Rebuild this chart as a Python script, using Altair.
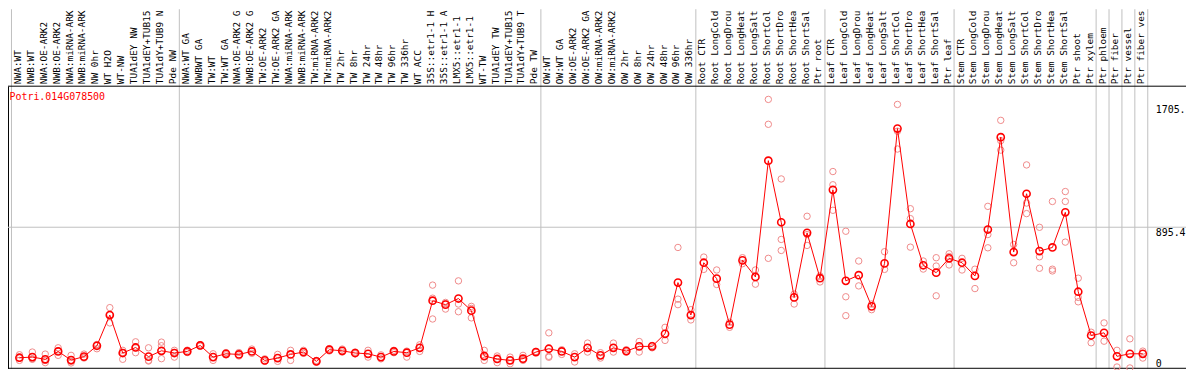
import altair as alt
import pandas as pd

gene = "Potri.014G078500"

labels = [
    "NWA:WT", "NWB:WT", "NWA:OE-ARK2", "NWB:OE-ARK2", "NWA:miRNA-ARK2", "NWB:miRNA-ARK2",
    "NW 0hr", "WT H2O", "WT-NW", "TUA1dEY NW", "TUA1dEY+TUB15 NW", "TUA1dY+TUB9 NW", "Pde NW",
    "NWA:WT GA", "NWBWT GA", "TW:WT", "TW:WT GA", "NWA:OE-ARK2 GA", "NWB:OE-ARK2 GA",
    "TW:OE-ARK2", "TW:OE-ARK2 GA", "NWA:miRNA-ARK2 GA", "NWB:miRNA-ARK2 GA", "TW:miRNA-ARK2",
    "TW:miRNA-ARK2 GA", "TW 2hr", "TW 8hr", "TW 24hr", "TW 48hr", "TW 96hr", "TW 336hr",
    "WT ACC", "35S::etr1-1 H2O", "35S::etr1-1 ACC", "LMX5::etr1-1 H2O", "LMX5::etr1-1 ACC",
    "WT-TW", "TUA1dEY TW", "TUA1dEY+TUB15 TW", "TUA1dY+TUB9 TW", "Pde TW",
    "OW:WT", "OW:WT GA", "OW:OE-ARK2", "OW:OE-ARK2 GA", "OW:miRNA-ARK2", "OW:miRNA-ARK2 GA",
    "OW 2hr", "OW 8hr", "OW 24hr", "OW 48hr", "OW 96hr", "OW 336hr",
    "Root CTR", "Root LongCold", "Root LongDrought", "Root LongHeat", "Root LongSalt",
    "Root ShortCold", "Root ShortDrought", "Root ShortHeat", "Root ShortSalt", "Ptr root",
    "Leaf CTR", "Leaf LongCold", "Leaf LongDrought", "Leaf LongHeat", "Leaf LongSalt",
    "Leaf ShortCold", "Leaf ShortDrought", "Leaf ShortHeat", "Leaf ShortSalt", "Ptr leaf",
    "Stem CTR", "Stem LongCold", "Stem LongDrought", "Stem LongHeat", "Stem LongSalt",
    "Stem ShortCold", "Stem ShortDrought", "Stem ShortHeat", "Stem ShortSalt", "Ptr shoot",
    "Ptr xylem", "Ptr phloem", "Ptr fiber", "Ptr vessel", "Ptr fiber vessel",
]

means = [
    67, 71, 57, 107, 52, 74, 143, 338, 97, 132, 74, 111, 97,
    107, 145, 71, 92, 88, 107, 50, 65, 88, 103, 44, 118, 111, 97, 92, 71, 107, 99,
    130, 429, 404, 443, 366, 78, 59, 50, 61, 103,
    124, 107, 71, 130, 82, 130, 109, 139, 139, 219, 544, 338,
    670, 569, 277, 685, 580, 1318, 927, 450, 860, 572,
    1133, 555, 591, 393, 666, 1522, 916, 654, 607, 698,
    670, 586, 881, 1467, 738, 1108, 744, 767, 990, 486,
    208, 225, 76, 92, 92,
]

replicates = [
    [86, 50, 65], [103, 57, 60], [90, 36, 50], [130, 82, 110], [82, 34, 45], [90, 65, 70],
    [151, 124, 150], [385, 288, 340], [114, 57, 100], [168, 99, 130], [130, 46, 50],
    [166, 143, 61], [114, 71, 100],
    [115, 100], [150, 140], [92, 50], [100, 85], [100, 78], [122, 95], [60, 44], [88, 44],
    [114, 50], [114, 95], [50, 40], [125, 110], [122, 103], [103, 92], [114, 71], [85, 60],
    [114, 99], [109, 71], [149, 107], [528, 313, 445], [418, 376, 410], [555, 408, 359],
    [393, 320, 380], [114, 50, 70], [78, 36, 60], [71, 29, 50], [82, 50, 55], [107, 100],
    [225, 76, 70], [118, 88], [92, 40], [160, 103], [99, 65], [160, 103], [118, 103],
    [170, 103], [145, 130], [260, 177], [767, 439, 404], [372, 307],
    [706, 628], [624, 532], [292, 260], [702, 664], [624, 534], [1707, 1549, 698],
    [1202, 818, 748], [471, 408], [965, 849, 780], [586, 548],
    [1249, 1165, 1003], [870, 454, 334], [681, 523], [408, 372], [740, 628],
    [1675, 1505, 1392], [1013, 950, 769], [681, 630], [702, 649, 460], [727, 656, 710],
    [698, 624], [629, 506], [1028, 849, 765], [1574, 1385, 1445], [786, 670],
    [1291, 1049, 982], [895, 708, 635], [1059, 629, 618], [1122, 1059, 801], [572, 450, 422],
    [229, 162], [288, 172], [114, 8], [187, 2], [109, 65],
]

# columns after which a vertical separator is drawn
line_after = [12, 40, 52, 62, 72, 83, 84, 85, 86, 87]
axis_values = [0, 895.4, 1705.2]
y_top = 1790.8
visible_chars = 13  # the reference shows only the first characters of each column name

keys = [f"{i:02d}|{t}" for i, t in enumerate(labels)]

mean_df = pd.DataFrame({"key": keys, "value": means})
label_df = pd.DataFrame({"key": keys, "label": labels, "value": [y_top] * len(keys)})
rep_df = pd.DataFrame(
    [{"key": keys[i], "value": v} for i, vs in enumerate(replicates) for v in vs]
)
vline_df = pd.DataFrame({"key": [keys[i] for i in line_after]})
first_df = pd.DataFrame({"key": [keys[0]]})
grid_df = pd.DataFrame({"value": [axis_values[1]]})
frame_df = pd.DataFrame({"value": [0.0, y_top]})

W, H = 1186, 362
FONT = "DejaVu Sans Mono"

xscale = alt.Scale(type="band", domain=keys, range=[3.5, 1147.5], paddingInner=0, paddingOuter=0)
yscale = alt.Scale(domain=[0, y_top], range=[H - 0.5, 77.5], nice=False, zero=False)

y_right = alt.Axis(
    orient="right", offset=-31, values=axis_values, title=None, domain=False, ticks=False,
    tickSize=0, grid=False, labelPadding=0, labelAlign="left",
    labelBaseline={"condition": {"test": "datum.value == 0", "value": "bottom"}, "value": "top"},
    labelOffset={"condition": {"test": "datum.value > 1000", "value": 5}, "value": 0},
    labelExpr="substring(toString(datum.value), 0, 5)",
    labelFont=FONT, labelFontSize=10, labelColor="black", labelOverlap=False, labelFlush=False,
)
y_left = alt.Axis(
    orient="left", title=None, domain=True, domainColor="black", domainWidth=1,
    ticks=False, labels=False, grid=False,
)

BP = 8 / 13  # position of a column's centre inside its band

vlines = alt.Chart(vline_df).mark_rule(color="#c0c0c0", strokeWidth=1).encode(
    x=alt.X("key:N", scale=xscale, axis=None, bandPosition=1)
)
vfirst = alt.Chart(first_df).mark_rule(color="#c0c0c0", strokeWidth=1).encode(
    x=alt.X("key:N", scale=xscale, axis=None, bandPosition=0)
)
grid = alt.Chart(grid_df).mark_rule(color="#c0c0c0", strokeWidth=1).encode(
    y=alt.Y("value:Q", scale=yscale, axis=None)
)
frame = alt.Chart(frame_df).mark_rule(color="black", strokeWidth=1).encode(
    y=alt.Y("value:Q", scale=yscale, axis=y_left)
)
col_labels = alt.Chart(label_df).transform_calculate(
    shown=f"substring(datum.label, 0, {visible_chars})"
).mark_text(
    angle=270, align="left", baseline="middle", dx=2, font=FONT, fontSize=9.5,
    color="black",
).encode(
    x=alt.X("key:N", scale=xscale, axis=None),
    y=alt.Y("value:Q", scale=yscale, axis=None),
    text="shown:N",
)
reps = alt.Chart(rep_df).mark_point(
    shape="circle", filled=False, size=42, strokeWidth=1, color="#ef8a8a", opacity=1
).encode(
    x=alt.X("key:N", scale=xscale, axis=None, bandPosition=BP),
    y=alt.Y("value:Q", scale=yscale, axis=None),
)
line = alt.Chart(mean_df).mark_line(color="#ff0000", strokeWidth=1).encode(
    x=alt.X("key:N", scale=xscale, axis=None, bandPosition=BP),
    y=alt.Y("value:Q", scale=yscale, axis=None),
)
pts = alt.Chart(mean_df).mark_point(
    shape="circle", filled=False, size=52, strokeWidth=1.6, color="#ff0000", opacity=1
).encode(
    x=alt.X("key:N", scale=xscale, axis=None, bandPosition=BP),
    y=alt.Y("value:Q", scale=yscale, axis=y_right),
)

chart = (
    alt.layer(vlines, vfirst, grid, frame, col_labels, reps, line, pts)
    .resolve_axis(y="independent")
    .properties(
        width=W,
        height=H,
        padding=0,
        autosize=alt.AutoSizeParams(type="none"),
        background="white",
        title=alt.TitleParams(
            text=gene, anchor="start", frame="group", orient="top", offset=0,
            dx=1.5, dy=102, baseline="alphabetic", color="#ff0000", font=FONT,
            fontSize=10, fontWeight="normal",
        ),
    )
    .configure_view(stroke=None)
)

chart.save("out.html", embed_options={"renderer": "svg", "actions": False})
